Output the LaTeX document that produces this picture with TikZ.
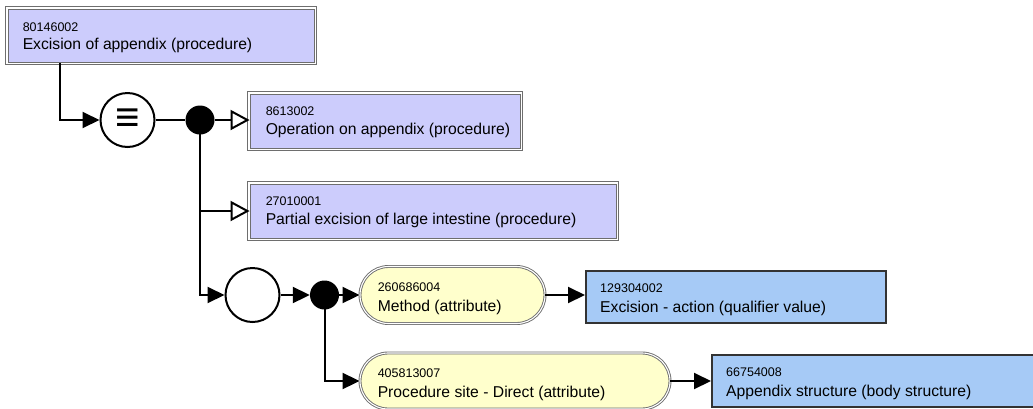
\documentclass[tikz,border=0pt]{standalone}
\usepackage{fontspec}
\setmainfont{Liberation Sans}
\usetikzlibrary{arrows.meta,calc,shapes.misc}
\definecolor{procfill}{RGB}{204,204,252}
\definecolor{attrfill}{RGB}{255,255,204}
\definecolor{valfill}{RGB}{166,202,246}
\definecolor{dblgray}{RGB}{110,110,110}
\tikzset{
  conn/.style={line width=2pt, black},
  fa/.style={conn, -{Triangle[length=17pt,width=16pt]}},
  oa/.style={conn, -{Triangle[open,length=19pt,width=20pt,fill=white]}},
  procbox/.style={shape=rectangle, draw=dblgray, line width=0.9pt, fill=procfill, inner sep=0pt},
  procouter/.style={draw=dblgray, line width=0.9pt},
  attrbox/.style={rounded rectangle, draw=dblgray, line width=0.9pt, double=white, double distance=1.1pt, fill=attrfill, inner sep=0pt},
  valbox/.style={shape=rectangle, draw=black!80, line width=2pt, fill=valfill, inner sep=0pt},
  opcircle/.style={circle, draw=black, line width=2pt, fill=white, inner sep=0pt},
  dotnode/.style={circle, fill=black, inner sep=0pt},
  idtxt/.style={anchor=base west, inner sep=0pt, font=\fontsize{12.5}{14}\selectfont},
  nametxt/.style={anchor=base west, inner sep=0pt, font=\fontsize{15.7}{18}\selectfont},
}
\begin{document}
\begin{tikzpicture}[x=1pt,y=-1pt]
\useasboundingbox (0,0) rectangle (1033,408);
\clip (0,0) rectangle (1033,408);

% concept boxes
\node[procbox, minimum width=306pt, minimum height=53pt] (b1) at (161,35.5) {};
\node[procbox, minimum width=270pt, minimum height=54pt] (b2) at (385,121) {};
\node[procbox, minimum width=366pt, minimum height=54pt] (b3) at (433,211) {};
\foreach \b in {b1,b2,b3}
  \draw[procouter] ($(\b.south west)+(-2,2)$) rectangle ($(\b.north east)+(2,-2)$);
\node[attrbox, minimum width=185pt, minimum height=57pt] (p1) at (452.5,295) {};
\node[attrbox, minimum width=310pt, minimum height=56pt] (p2) at (515,381) {};
\node[valbox, minimum width=300pt, minimum height=52pt] (v1) at (736,297) {};
\node[valbox, minimum width=333pt, minimum height=52pt] (v2) at (878.5,381) {};

% texts
\node[idtxt] (b1id) at ($(b1.north west)+(15,23)$) {80146002};
\node[nametxt] (b1nm) at ($(b1.north west)+(15,41)$) {Excision of appendix (procedure)};
\node[idtxt] (b2id) at ($(b2.north west)+(16,22)$) {8613002};
\node[nametxt] (b2nm) at ($(b2.north west)+(16,41)$) {Operation on appendix (procedure)};
\node[idtxt] (b3id) at ($(b3.north west)+(16,22)$) {27010001};
\node[nametxt] (b3nm) at ($(b3.north west)+(16,41)$) {Partial excision of large intestine (procedure)};
\node[idtxt] (p1id) at ($(p1.west |- p1.north)+(18,25)$) {260686004};
\node[nametxt] (p1nm) at ($(p1.west |- p1.north)+(18,45)$) {Method (attribute)};
\node[idtxt] (p2id) at ($(p2.west |- p2.north)+(18,25)$) {405813007};
\node[nametxt] (p2nm) at ($(p2.west |- p2.north)+(18,45)$) {Procedure site - Direct (attribute)};
\node[idtxt] (v1id) at ($(v1.north west)+(15,22)$) {129304002};
\node[nametxt] (v1nm) at ($(v1.north west)+(15,42)$) {Excision - action (qualifier value)};
\node[idtxt] (v2id) at ($(v2.north west)+(15,22)$) {66754008};
\node[nametxt] (v2nm) at ($(v2.north west)+(15,42)$) {Appendix structure (body structure)};

% operators
\node[opcircle, minimum size=54pt] (eq) at (127.5,120) {};
\node[inner sep=0pt, font=\fontsize{42}{42}\selectfont] (eqsym) at (eq.center) {≡};
\node[opcircle, minimum size=54pt] (c2) at (252.5,295) {};

% connectors
\coordinate (b1out) at (60,63);
\coordinate (j1) at (200,120);
\coordinate (j2) at (324.5,295);
\draw[oa] (j1) |- (b3.west);
\draw[fa] (j1) |- (c2.west);
\draw[fa] (j2) |- (p2.west);
\node[dotnode, minimum size=29pt] (d1) at (j1) {};
\node[dotnode, minimum size=29pt] (d2) at (j2) {};
\draw[fa] (b1out) |- (eq.west);
\draw[conn] (eq.east) -- (d1.west);
\draw[oa] (d1.east) -- (d1.east -| b2.west);
\draw[fa] (c2.east) -- (d2.west);
\draw[fa] (d2.east) -- (d2.east -| p1.west);
\draw[fa] (p1.east) -- (p1.east -| v1.west);
\draw[fa] (p2.east) -- (p2.east -| v2.west);
\end{tikzpicture}
\end{document}
